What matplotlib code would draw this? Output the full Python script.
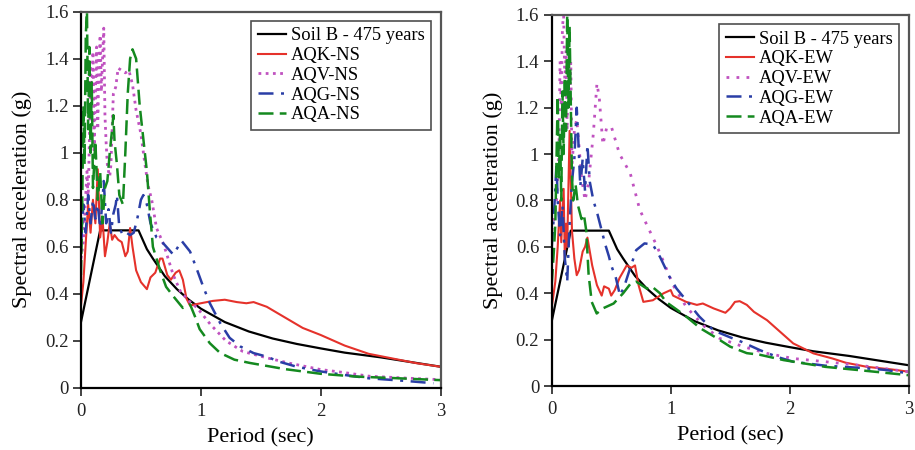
import numpy as np
import matplotlib
matplotlib.use('Agg')
import matplotlib.pyplot as plt

plt.rcParams['font.family'] = 'Liberation Serif'
plt.rcParams['mathtext.fontset'] = 'stix'

# ---------------------------------------------------------------- #
# EC8 soil B elastic spectrum (475 years)
T_code = [0.0, 0.16, 0.48, 0.55, 0.6, 0.7, 0.8, 0.9, 1.0, 1.2, 1.4, 1.6, 1.8,
          2.0, 2.2, 2.5, 2.75, 3.0]
A_code = [0.28, 0.67, 0.67, 0.59, 0.55, 0.475, 0.42, 0.375, 0.337, 0.28, 0.24,
          0.21, 0.187, 0.168, 0.15, 0.13, 0.11, 0.09]

# NS components
T_aqk_ns = [0, 0.02, 0.04, 0.06, 0.08, 0.10, 0.12, 0.14, 0.16, 0.18, 0.20, 0.22,
            0.24, 0.26, 0.28, 0.31, 0.34, 0.37, 0.39, 0.41, 0.43, 0.46, 0.50,
            0.55, 0.58, 0.62, 0.66, 0.68, 0.72, 0.75, 0.79, 0.82, 0.85, 0.88,
            0.91, 0.95, 1.0, 1.1, 1.2, 1.3, 1.38, 1.44, 1.55, 1.7, 1.85, 2.0,
            2.2, 2.4, 2.6, 2.8, 3.0]
A_aqk_ns = [0.35, 0.45, 0.62, 0.78, 0.66, 0.80, 0.70, 0.93, 0.64, 0.72, 0.56,
            0.62, 0.70, 0.63, 0.65, 0.63, 0.62, 0.56, 0.58, 0.68, 0.60, 0.50,
            0.45, 0.42, 0.47, 0.49, 0.55, 0.55, 0.48, 0.46, 0.49, 0.50, 0.46,
            0.38, 0.35, 0.355, 0.36, 0.37, 0.375, 0.365, 0.36, 0.365, 0.345,
            0.30, 0.255, 0.225, 0.18, 0.145, 0.125, 0.105, 0.09]

T_aqv_ns = [0, 0.02, 0.04, 0.05, 0.06, 0.07, 0.08, 0.09, 0.10, 0.11, 0.12, 0.13,
            0.14, 0.15, 0.16, 0.17, 0.18, 0.19, 0.20, 0.21, 0.22, 0.23, 0.24,
            0.25, 0.27, 0.29, 0.31, 0.34, 0.37, 0.40, 0.43, 0.46, 0.50, 0.53,
            0.56, 0.59, 0.63, 0.69, 0.77, 0.83, 0.90, 0.97, 1.08, 1.21, 1.35,
            1.55, 1.74, 2.0, 2.2, 2.4, 2.7, 3.0]
A_aqv_ns = [0.55, 0.62, 0.82, 0.92, 0.80, 1.05, 1.36, 1.22, 1.43, 1.00, 1.25,
            1.45, 1.10, 1.38, 1.50, 1.26, 1.40, 1.53, 1.16, 1.04, 0.95, 0.92,
            0.90, 0.95, 1.25, 1.28, 1.36, 1.35, 1.34, 1.35, 1.29, 1.18, 1.08,
            0.965, 0.86, 0.80, 0.68, 0.61, 0.48, 0.41, 0.37, 0.34, 0.27, 0.20,
            0.155, 0.128, 0.105, 0.078, 0.065, 0.05, 0.042, 0.035]

T_aqg_ns = [0, 0.02, 0.04, 0.06, 0.08, 0.10, 0.12, 0.14, 0.16, 0.18, 0.19, 0.21,
            0.23, 0.25, 0.27, 0.29, 0.30, 0.32, 0.35, 0.38, 0.41, 0.44, 0.47,
            0.50, 0.52, 0.55, 0.58, 0.63, 0.66, 0.73, 0.77, 0.84, 0.91, 0.97,
            1.02, 1.075, 1.16, 1.24, 1.33, 1.44, 1.55, 1.65, 1.8, 2.0, 2.2, 2.4,
            2.7, 2.94]
A_aqg_ns = [0.60, 0.78, 0.66, 0.82, 0.70, 0.80, 0.72, 0.78, 0.68, 0.80, 0.88,
            0.70, 0.76, 0.66, 0.74, 0.78, 0.82, 0.68, 0.65, 0.66, 0.65, 0.66,
            0.72, 0.80, 0.82, 0.78, 0.70, 0.64, 0.63, 0.59, 0.567, 0.625, 0.58,
            0.50, 0.43, 0.36, 0.277, 0.213, 0.176, 0.148, 0.133, 0.112, 0.09,
            0.07, 0.055, 0.041, 0.03, 0.02]

T_aqa_ns = [0, 0.01, 0.02, 0.03, 0.04, 0.05, 0.06, 0.07, 0.08, 0.09, 0.10, 0.12,
            0.14, 0.16, 0.18, 0.20, 0.22, 0.24, 0.26, 0.27, 0.28, 0.30, 0.32,
            0.35, 0.37, 0.39, 0.41, 0.43, 0.46, 0.49, 0.52, 0.55, 0.575, 0.60,
            0.66, 0.71, 0.77, 0.85, 0.91, 0.95, 0.99, 1.075, 1.16, 1.28, 1.41,
            1.5, 1.7, 2.0, 2.3, 2.6, 3.0]
A_aqa_ns = [0.48, 0.75, 1.20, 0.95, 1.50, 1.60, 1.10, 1.45, 1.00, 1.30, 0.85,
            1.05, 0.80, 0.92, 0.70, 0.85, 0.88, 1.00, 1.10, 1.16, 1.05, 0.95,
            0.82, 0.78, 1.00, 1.25, 1.40, 1.44, 1.40, 1.20, 1.06, 0.92, 0.75,
            0.60, 0.50, 0.43, 0.39, 0.34, 0.355, 0.305, 0.25, 0.19, 0.149, 0.12,
            0.106, 0.098, 0.08, 0.06, 0.048, 0.042, 0.033]

# EW components
T_aqk_ew = [0, 0.03, 0.05, 0.07, 0.08, 0.10, 0.11, 0.12, 0.13, 0.15, 0.17, 0.19,
            0.21, 0.23, 0.26, 0.28, 0.30, 0.34, 0.38, 0.42, 0.44, 0.48, 0.50,
            0.53, 0.57, 0.63, 0.67, 0.70, 0.73, 0.77, 0.85, 0.94, 1.0, 1.02,
            1.13, 1.22, 1.27, 1.36, 1.46, 1.50, 1.54, 1.58, 1.64, 1.70, 1.81,
            1.92, 2.03, 2.2, 2.36, 2.47, 2.65, 2.87, 3.0]
A_aqk_ew = [0.34, 0.45, 0.60, 0.80, 0.62, 0.85, 0.55, 0.70, 0.60, 1.10, 0.67,
            0.55, 0.478, 0.50, 0.58, 0.60, 0.64, 0.52, 0.435, 0.39, 0.43, 0.42,
            0.39, 0.414, 0.466, 0.52, 0.51, 0.52, 0.435, 0.363, 0.37, 0.40,
            0.414, 0.39, 0.363, 0.35, 0.356, 0.335, 0.316, 0.335, 0.363, 0.366,
            0.35, 0.32, 0.284, 0.234, 0.184, 0.141, 0.119, 0.101, 0.083, 0.071,
            0.062]

T_aqv_ew = [0, 0.02, 0.04, 0.06, 0.07, 0.08, 0.09, 0.10, 0.11, 0.12, 0.13, 0.14,
            0.15, 0.16, 0.17, 0.19, 0.21, 0.23, 0.25, 0.28, 0.31, 0.35, 0.38,
            0.40, 0.43, 0.46, 0.50, 0.57, 0.66, 0.74, 0.80, 0.88, 0.94, 1.02,
            1.13, 1.27, 1.41, 1.61, 1.81, 2.03, 2.3, 2.58, 3.0]
A_aqv_ew = [0.67, 0.72, 0.80, 1.00, 1.40, 1.20, 1.55, 1.60, 1.30, 1.45, 1.10,
            1.50, 1.20, 1.40, 0.95, 1.10, 1.15, 1.03, 0.90, 0.80, 0.88, 1.09,
            1.305, 1.24, 1.04, 1.11, 1.12, 1.00, 0.917, 0.76, 0.694, 0.608,
            0.536, 0.435, 0.342, 0.263, 0.206, 0.17, 0.141, 0.119, 0.105, 0.09,
            0.062]

T_aqg_ew = [0, 0.02, 0.04, 0.05, 0.07, 0.09, 0.11, 0.13, 0.15, 0.17, 0.19, 0.21,
            0.22, 0.24, 0.26, 0.28, 0.30, 0.32, 0.35, 0.385, 0.41, 0.45, 0.48,
            0.50, 0.54, 0.574, 0.61, 0.66, 0.71, 0.78, 0.85, 0.91, 0.99, 1.05,
            1.13, 1.24, 1.36, 1.5, 1.6, 1.75, 1.9, 2.03, 2.3, 2.58, 2.8, 3.0]
A_aqg_ew = [0.60, 0.75, 0.96, 0.80, 0.65, 0.78, 0.55, 0.45, 0.70, 0.88, 0.98,
            1.20, 1.10, 0.86, 0.98, 0.84, 1.04, 0.88, 0.80, 0.74, 0.69, 0.61,
            0.56, 0.52, 0.465, 0.39, 0.43, 0.51, 0.586, 0.615, 0.61, 0.557,
            0.471, 0.42, 0.37, 0.30, 0.24, 0.21, 0.19, 0.155, 0.125, 0.105,
            0.088, 0.079, 0.07, 0.055]

T_aqa_ew = [0, 0.02, 0.03, 0.05, 0.06, 0.07, 0.08, 0.09, 0.10, 0.11, 0.12, 0.13,
            0.14, 0.15, 0.17, 0.18, 0.20, 0.22, 0.25, 0.27, 0.29, 0.31, 0.336,
            0.378, 0.43, 0.52, 0.60, 0.66, 0.71, 0.80, 0.84, 0.91, 0.96, 1.05,
            1.13, 1.25, 1.39, 1.5, 1.64, 1.75, 1.95, 2.3, 2.58, 3.0]
A_aqa_ew = [0.44, 0.60, 0.70, 1.25, 0.90, 1.10, 0.80, 1.27, 1.00, 1.33, 1.10,
            1.60, 1.20, 1.55, 0.90, 0.80, 0.87, 0.78, 0.72, 0.74, 0.67, 0.48,
            0.363, 0.313, 0.335, 0.356, 0.40, 0.44, 0.45, 0.42, 0.43, 0.40,
            0.363, 0.33, 0.30, 0.249, 0.206, 0.17, 0.142, 0.135, 0.112, 0.083,
            0.069, 0.047]

y_ticks = [0, 0.2, 0.4, 0.6, 0.8, 1.0, 1.2, 1.4, 1.6]
y_ticklabels = ['0', '0.2', '0.4', '0.6', '0.8', '1', '1.2', '1.4', '1.6']
x_ticks = [0, 1, 2, 3]

# ---------------------------------------------------------------- #
c_red = '#e5322b'
c_mag = '#c052c0'
c_blue = '#2a3ea6'
c_green = '#14891f'

fig = plt.figure(figsize=(9.15, 4.5), dpi=100)
ax1 = fig.add_axes([0.0885, 0.138, 0.393, 0.836])
ax2 = fig.add_axes([0.603, 0.142, 0.390, 0.825])


def draw_panel(ax, tk, ak, tv, av, tg, ag, ta, aa, comp, dotstyle):
    ax.plot(T_code, A_code, color='black', lw=1.6, label='Soil B - 475 years')
    ax.plot(tk, ak, color=c_red, lw=1.5, label='AQK-' + comp)
    ax.plot(tv, av, color=c_mag, lw=2.0, linestyle=dotstyle, label='AQV-' + comp)
    ax.plot(tg, ag, color=c_blue, lw=1.8, linestyle=(0, (6, 3, 1.2, 3)),
            label='AQG-' + comp)
    ax.plot(ta, aa, color=c_green, lw=1.8, linestyle=(0, (6, 2.5)),
            label='AQA-' + comp)

    ax.set_xlim(0, 3)
    ax.set_ylim(0, 1.6)
    ax.set_xticks(x_ticks)
    ax.set_xticklabels([str(t) for t in x_ticks])
    ax.set_yticks(y_ticks)
    ax.set_yticklabels(y_ticklabels)
    ax.tick_params(direction='out', length=6, width=1.2, labelsize=13.5,
                   colors='#222222', pad=3)
    ax.tick_params(axis='x', pad=5)
    for s in ['left', 'bottom']:
        ax.spines[s].set_linewidth(1.6)
        ax.spines[s].set_color('black')
    for s in ['top', 'right']:
        ax.spines[s].set_linewidth(1.6)
        ax.spines[s].set_color('#555555')
    ax.set_xlabel('Period (sec)', fontsize=16, labelpad=6)
    ax.set_ylabel('Spectral acceleration (g)', fontsize=16, labelpad=9)
    leg = ax.legend(loc='upper right', fontsize=13.3, frameon=True, fancybox=False,
                    edgecolor='#222222', handlelength=1.5, labelspacing=0.15,
                    borderpad=0.35, handletextpad=0.3, borderaxespad=0.5)
    leg.get_frame().set_linewidth(1.2)


draw_panel(ax1, T_aqk_ns, A_aqk_ns, T_aqv_ns, A_aqv_ns, T_aqg_ns, A_aqg_ns,
           T_aqa_ns, A_aqa_ns, 'NS', (0, (1.0, 1.6)))
draw_panel(ax2, T_aqk_ew, A_aqk_ew, T_aqv_ew, A_aqv_ew, T_aqg_ew, A_aqg_ew,
           T_aqa_ew, A_aqa_ew, 'EW', (0, (1.0, 2.6)))

fig.savefig('out.png', dpi=100)
